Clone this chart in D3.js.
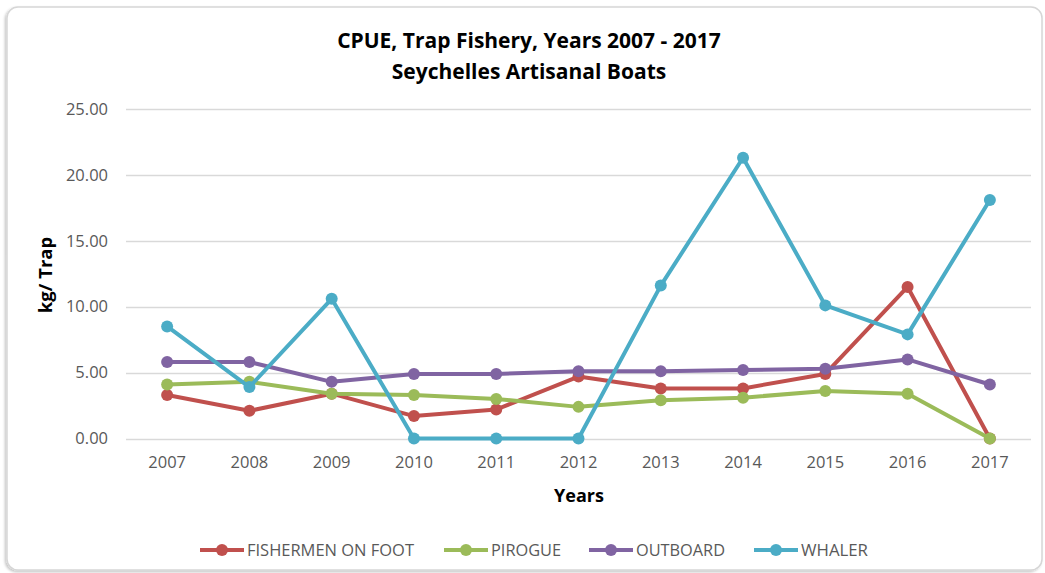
<!DOCTYPE html>
<html>
<head>
<meta charset="utf-8">
<script src="https://cdn.jsdelivr.net/npm/d3@7"></script>
<style>
  html, body { margin: 0; padding: 0; background: #fff; }
  svg { display: block; }
  text { font-family: "Open Sans", "Liberation Sans", sans-serif; }
</style>
</head>
<body>
<svg id="chart" width="1045" height="573"></svg>
<script>
// CPUE (kg per trap) by boat type, 2007-2017
const years = ["2007","2008","2009","2010","2011","2012","2013","2014","2015","2016","2017"];
const fishermenOnFoot = [3.3, 2.1, 3.4, 1.7, 2.2, 4.7, 3.8, 3.8, 4.9, 11.5, 0.0];
const pirogue         = [4.1, 4.3, 3.4, 3.3, 3.0, 2.4, 2.9, 3.1, 3.6, 3.4, 0.0];
const outboard        = [5.8, 5.8, 4.3, 4.9, 4.9, 5.1, 5.1, 5.2, 5.3, 6.0, 4.1];
const whaler          = [8.5, 3.9, 10.6, 0.0, 0.0, 0.0, 11.6, 21.3, 10.1, 7.9, 18.1];
const yTicks = [0, 5, 10, 15, 20, 25];

const seriesNames  = ["FISHERMEN ON FOOT", "PIROGUE", "OUTBOARD", "WHALER"];
const seriesValues = [fishermenOnFoot, pirogue, outboard, whaler];
const seriesColors = ["#C0504D", "#9BBB59", "#8064A2", "#4BACC6"];

const series = seriesNames.map((name, i) => ({
  name, color: seriesColors[i],
  values: seriesValues[i].map((v, j) => ({ year: years[j], v }))
}));

const svg = d3.select("#chart");

// soft drop shadow for the chart frame
const defs = svg.append("defs");
const f = defs.append("filter").attr("id", "shadow")
  .attr("x", "-5%").attr("y", "-5%").attr("width", "110%").attr("height", "110%");
f.append("feDropShadow").attr("dx", -1.5).attr("dy", 1.5).attr("stdDeviation", 1.2)
  .attr("flood-color", "#000").attr("flood-opacity", 0.22);

// chart frame
svg.append("rect")
  .attr("x", 7).attr("y", 7)
  .attr("width", 1035).attr("height", 563)
  .attr("rx", 11).attr("ry", 11)
  .attr("fill", "#fff")
  .attr("stroke", "#d6d6d6").attr("stroke-width", 1.5)
  .attr("filter", "url(#shadow)");

const plot = { left: 126, right: 1031, top: 109, bottom: 438.5 };

const x = d3.scaleBand().domain(years).range([plot.left, plot.right]);
const y = d3.scaleLinear().domain([0, 25]).range([plot.bottom, plot.top]);
const cx = d => x(d) + x.bandwidth() / 2;

// horizontal gridlines
svg.append("g")
  .selectAll("line").data(yTicks).join("line")
  .attr("x1", plot.left).attr("x2", plot.right)
  .attr("y1", d => Math.round(y(d)) + 0.5).attr("y2", d => Math.round(y(d)) + 0.5)
  .attr("stroke", "#d9d9d9").attr("stroke-width", 1.5);

// y axis labels
const yAxis = d3.axisLeft(y).tickValues(yTicks).tickFormat(d3.format(".2f")).tickSize(0).tickPadding(0);
svg.append("g")
  .attr("transform", `translate(${plot.left - 18},0)`)
  .call(yAxis)
  .call(g => g.select(".domain").remove())
  .selectAll("text")
  .attr("font-size", 16.5).attr("fill", "#595959")
  .attr("font-family", "'Open Sans', sans-serif");

// x axis labels
const xAxis = d3.axisBottom(x).tickSize(0).tickPadding(0);
svg.append("g")
  .attr("transform", `translate(0,${plot.bottom + 18})`)
  .call(xAxis)
  .call(g => g.select(".domain").remove())
  .selectAll("text")
  .attr("font-size", 16.5).attr("fill", "#595959")
  .attr("font-family", "'Open Sans', sans-serif");

// titles
svg.append("text")
  .attr("x", 529).attr("y", 48)
  .attr("text-anchor", "middle")
  .attr("font-size", 21).attr("font-weight", "bold").attr("fill", "#000")
  .text("CPUE, Trap Fishery, Years 2007 - 2017");
svg.append("text")
  .attr("x", 529).attr("y", 79)
  .attr("text-anchor", "middle")
  .attr("font-size", 21).attr("font-weight", "bold").attr("fill", "#000")
  .text("Seychelles Artisanal Boats");

svg.append("text")
  .attr("x", 579).attr("y", 502)
  .attr("text-anchor", "middle")
  .attr("font-size", 18).attr("font-weight", "bold").attr("fill", "#000")
  .text("Years");

svg.append("text")
  .attr("transform", "translate(52,275) rotate(-90)")
  .attr("text-anchor", "middle")
  .attr("font-size", 18.5).attr("font-weight", "bold").attr("fill", "#000")
  .text("kg/ Trap");

// series lines and markers
const line = d3.line().x(d => cx(d.year)).y(d => y(d.v));
const gs = svg.append("g").selectAll("g").data(series).join("g");
gs.append("path")
  .attr("d", d => line(d.values))
  .attr("fill", "none")
  .attr("stroke", d => d.color)
  .attr("stroke-width", 4)
  .attr("stroke-linejoin", "round");
gs.selectAll("circle").data(d => d.values.map(v => ({ ...v, color: d.color }))).join("circle")
  .attr("cx", d => cx(d.year)).attr("cy", d => y(d.v))
  .attr("r", 6).attr("fill", d => d.color);

// legend
const legendX = [200, 444, 589, 754];
const legendW = [167, 70, 89, 67];
const lg = svg.append("g").selectAll("g").data(series).join("g")
  .attr("transform", (d, i) => `translate(${legendX[i]},550)`);
lg.append("line").attr("x1", 0).attr("x2", 44).attr("y1", 0).attr("y2", 0)
  .attr("stroke", d => d.color).attr("stroke-width", 4);
lg.append("circle").attr("cx", 22).attr("cy", 0).attr("r", 6).attr("fill", d => d.color);
lg.append("text").attr("x", 47).attr("y", 6)
  .attr("font-size", 16).attr("fill", "#595959")
  .attr("textLength", (d, i) => legendW[i])
  .attr("lengthAdjust", "spacingAndGlyphs")
  .text(d => d.name);
</script>
</body>
</html>
